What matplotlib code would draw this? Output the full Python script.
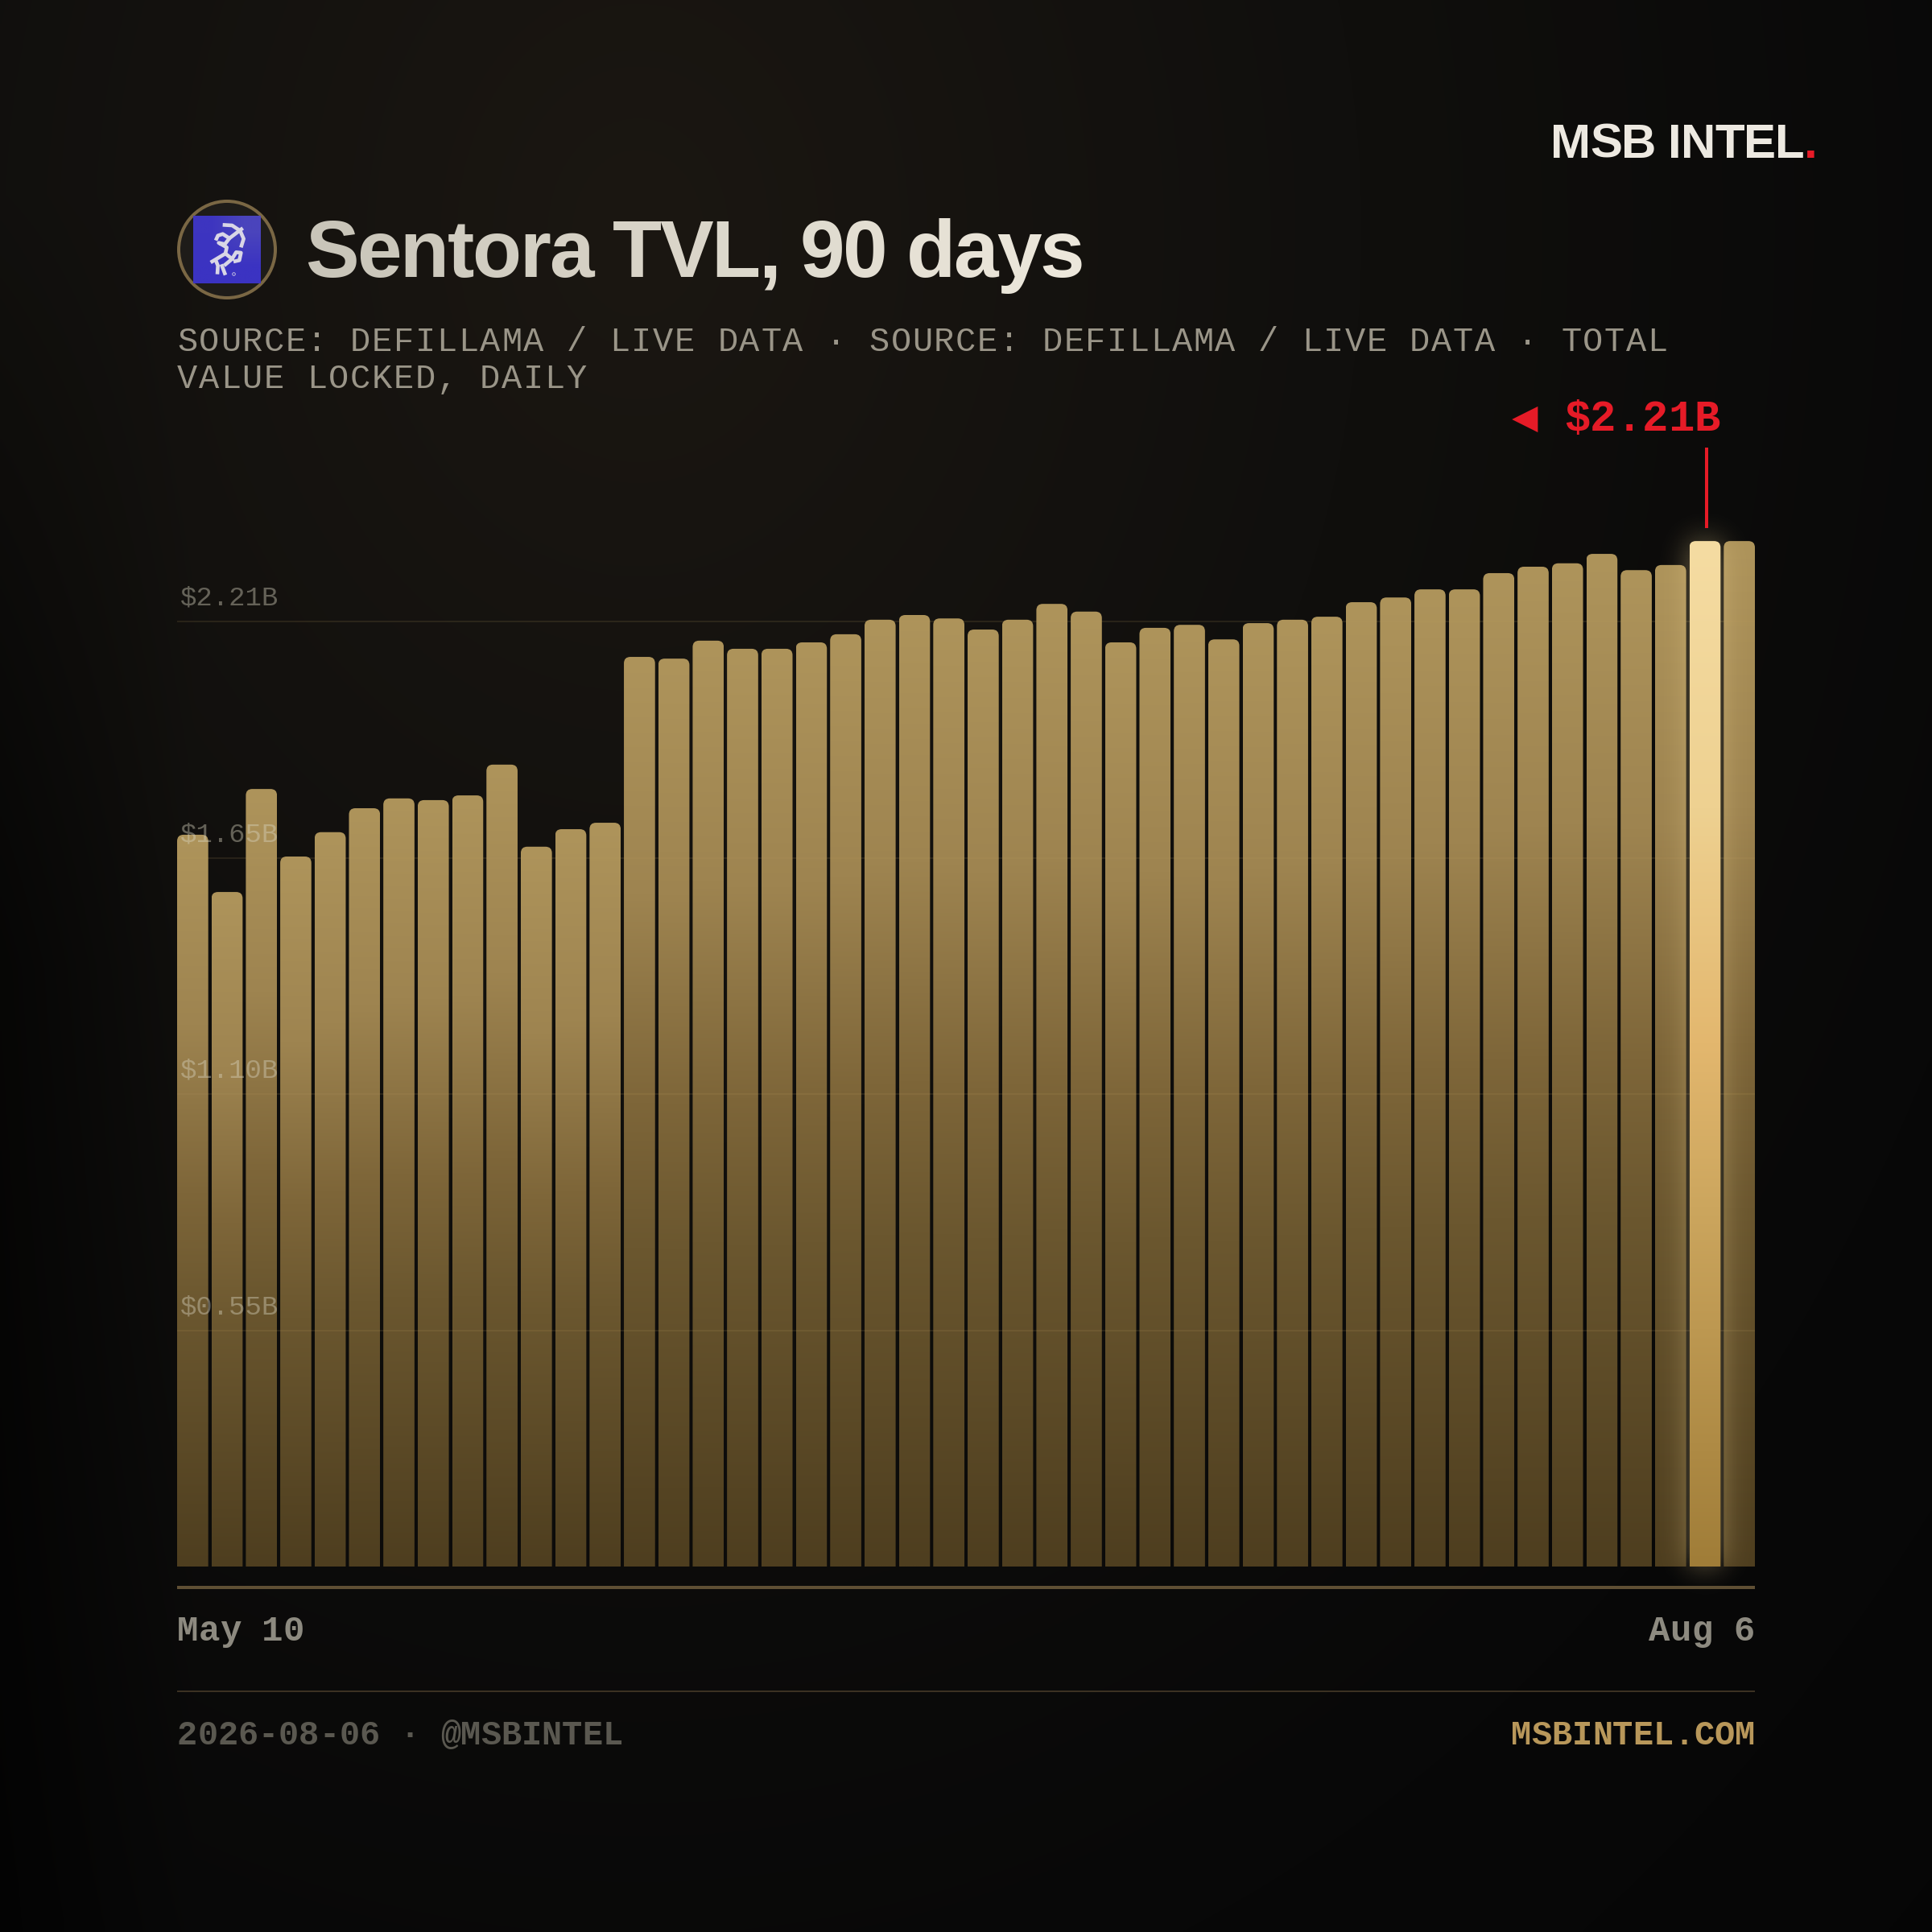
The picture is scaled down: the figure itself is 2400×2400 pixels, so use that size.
import math
import numpy as np
import matplotlib
matplotlib.use("Agg")
import matplotlib.pyplot as plt
import matplotlib.text as mtext
from matplotlib.path import Path
from matplotlib.patches import PathPatch, Circle, Rectangle
from matplotlib.colors import to_rgb
from matplotlib.transforms import Bbox

# ---------- data ----------
tvl_billions = [1.712, 1.578, 1.819, 1.661, 1.718, 1.774, 1.797, 1.793, 1.804, 1.876,
                1.684, 1.725, 1.740, 2.128, 2.124, 2.166, 2.147, 2.147, 2.162, 2.181,
                2.215, 2.226, 2.218, 2.192, 2.215, 2.252, 2.234, 2.162, 2.196, 2.203,
                2.169, 2.207, 2.215, 2.222, 2.256, 2.267, 2.286, 2.286, 2.324, 2.339,
                2.347, 2.369, 2.331, 2.343, 2.399, 2.399]
highlight_index = 44
grid_values = [2.21, 1.6575, 1.105, 0.5525]
grid_labels = ["$2.21B", "$1.65B", "$1.10B", "$0.55B"]
date_start = "May 10"
date_end = "Aug 6"
title = "Sentora TVL, 90 days"
subtitle_lines = ["SOURCE: DEFILLAMA / LIVE DATA · SOURCE: DEFILLAMA / LIVE DATA · TOTAL",
                  "VALUE LOCKED, DAILY"]
peak_label = "◀ $2.21B"
brand = "MSB INTEL."
footer_left = "2026-08-06 · @MSBINTEL"
footer_right = "MSBINTEL.COM"

# ---------- helpers ----------
W = 2400
DPI = 200
px = 72 / DPI          # font px -> pt
lw_px = 72 / DPI       # line px -> pt
MONO = ["Liberation Mono", "DejaVu Sans Mono"]
SANS = ["Liberation Sans", "DejaVu Sans"]
RED = "#e61b27"


class TrackedText(mtext.Text):
    """One text artist holding the whole string, drawn with CSS-like letter spacing."""
    def __init__(self, x, y, s, tracking=0.0, anchor="left", ramp=None, last_color=None, **kw):
        super().__init__(x, y, s, ha=anchor, va="baseline", **kw)
        self._tracking = tracking
        self._anchor = anchor
        self._ramp = ramp
        self._last_color = last_color

    def _adv(self, renderer, s):
        prop = self.get_fontproperties()
        bar = renderer.get_text_width_height_descent("|", prop, False)[0]
        return renderer.get_text_width_height_descent(s + "|", prop, False)[0] - bar

    def get_window_extent(self, renderer=None, dpi=None):
        box = super().get_window_extent(renderer, dpi)
        extra = self._tracking * (len(self.get_text()) - 1)
        if self._anchor == "right":
            return Bbox([[box.x0 - extra, box.y0], [box.x1, box.y1]])
        return Bbox([[box.x0, box.y0], [box.x1 + extra, box.y1]])

    def draw(self, renderer):
        s = self.get_text()
        x0, y0 = self.get_position()
        base_color = self.get_color()
        tx, ty = self.get_transform().transform((x0, y0))
        inv = self.get_transform().inverted()
        total = self._adv(renderer, s) + self._tracking * (len(s) - 1)
        start = tx - total if self._anchor == "right" else tx
        self.set_ha("left")
        for i, c in enumerate(s):
            if c == " ":
                continue
            off = self._adv(renderer, s[:i]) + self._tracking * i
            if self._ramp is not None:
                f = off / total
                a, b = np.array(to_rgb(self._ramp[0])), np.array(to_rgb(self._ramp[1]))
                self.set_color(tuple(a * (1 - f) + b * f))
            if self._last_color is not None and i == len(s) - 1:
                self.set_color(self._last_color)
            self.set_x(inv.transform((start + off, ty))[0])
            self.set_text(c)
            super().draw(renderer)
        self.set_ha(self._anchor)
        self.set_text(s)
        self.set_color(base_color)
        self.set_position((x0, y0))
        self.stale = False


fig = plt.figure(figsize=(W / DPI, W / DPI), dpi=DPI, facecolor="#060606")

# ---------- background (pixel-space overlay) ----------
bg = fig.add_axes([0, 0, 1, 1], zorder=0)
bg.set_xlim(0, W)
bg.set_ylim(W, 0)
bg.axis("off")
yy, xx = np.mgrid[0:1:600j, 0:1:600j]
t = np.sqrt(((xx - 0.33) / 0.75) ** 2 + ((yy - 0.12) / 0.95) ** 2)
stops_t = [0.0, 0.5, 1.0, 1.4]
stops_c = np.array([to_rgb("#1b1712"), to_rgb("#100f0d"), to_rgb("#080808"), to_rgb("#050505")])
img = np.dstack([np.interp(t, stops_t, stops_c[:, k]) for k in range(3)])
vign = 1 - (1 - np.interp(xx, [0, 0.1], [0, 1])) * np.clip((yy - 0.1) / 0.4, 0, 1) * 0.55
img = img * vign[..., None]
bg.imshow(img, extent=(0, W, W, 0), aspect="auto", interpolation="bilinear", zorder=0)

# ---------- chart axes ----------
bar_left, bar_right = 220, 2180
base_y, top_y = 1946, 500
px_per_b = 531.0
pitch = (bar_right - bar_left + 4) / len(tvl_billions)
bar_w = (pitch - 4) / pitch
ax = fig.add_axes([bar_left / W, 1 - base_y / W, (bar_right - bar_left) / W, (base_y - top_y) / W], zorder=1)
ax.patch.set_alpha(0)
xlim = (-bar_w / 2, len(tvl_billions) - 1 + bar_w / 2)
ylim = (0, (base_y - top_y) / px_per_b)
ax.set_xlim(xlim)
ax.set_ylim(ylim)
ax.axis("off")

xs = np.arange(len(tvl_billions))
bars = ax.bar(xs, tvl_billions, width=bar_w, color="none", linewidth=0, zorder=2)


def gradient(positions, colors):
    r = np.linspace(0, 1, 256)
    c = np.array([to_rgb(k) for k in colors])
    return np.dstack([np.interp(r, positions, c[:, k])[:, None] for k in range(3)])


normal_grad = gradient([0, 0.26, 0.49, 0.65, 1], ["#ae945b", "#9e8450", "#7e6639", "#6b572f", "#4e3e1f"])
hi_grad = gradient([0, 0.26, 0.49, 0.65, 1], ["#f5dca2", "#eed191", "#e3b76e", "#cca65e", "#a07d38"])
radius_px = 8


def gradient_bar(axes, rect, grad, z):
    x0, x1, h = rect.get_x(), rect.get_x() + rect.get_width(), rect.get_height()
    rx, ry = radius_px / pitch, radius_px / px_per_b
    verts = [(x0, 0), (x0, h - ry), (x0, h), (x0 + rx, h), (x1 - rx, h), (x1, h), (x1, h - ry), (x1, 0), (x0, 0)]
    codes = [Path.MOVETO, Path.LINETO, Path.CURVE3, Path.CURVE3, Path.LINETO,
             Path.CURVE3, Path.CURVE3, Path.LINETO, Path.CLOSEPOLY]
    clip = PathPatch(Path(verts, codes), transform=axes.transData, facecolor="none", edgecolor="none")
    axes.add_patch(clip)
    im = axes.imshow(grad, extent=(x0, x1, 0, h), origin="upper", aspect="auto",
                     interpolation="bilinear", zorder=z)
    im.set_clip_path(clip)
    axes.set_xlim(xlim)
    axes.set_ylim(ylim)


for i, rect in enumerate(bars):
    if i != highlight_index:
        gradient_bar(ax, rect, normal_grad, 2)

# grid over the ordinary bars
for v in grid_values:
    ax.axhline(v, color="#b89a5e", alpha=0.14, lw=2 * lw_px, zorder=3)

# glow around highlighted bar, computed from its data extents
hr = bars[highlight_index]
(gx0, gy1), (gx1, gy0) = [(p[0], W - p[1]) for p in ax.transData.transform(
    [(hr.get_x(), 0), (hr.get_x() + hr.get_width(), hr.get_height())])]
sigma = 18.0
xg = np.arange(gx0 - 90, gx1 + 90, 2.0)
yg = np.arange(gy0 - 90, gy1 + 90, 2.0)
erf = np.vectorize(math.erf)
s2 = sigma * 2 ** 0.5
fx = 0.5 * (erf((xg - gx0) / s2) - erf((xg - gx1) / s2))
fy = 0.5 * (erf((yg - gy0) / s2) - erf((yg - gy1) / s2))
rgba = np.zeros((len(yg), len(xg), 4))
rgba[..., :3] = to_rgb("#f2d695")
rgba[..., 3] = 0.46 * np.outer(fy, fx)
gl = fig.add_axes([0, 0, 1, 1], zorder=1.5)
gl.axis("off")
gl.patch.set_alpha(0)
gl.imshow(rgba, extent=(xg[0], xg[-1], yg[-1], yg[0]), aspect="auto", interpolation="bilinear")
gl.set_xlim(0, W)
gl.set_ylim(W, 0)

# highlighted bar and grid labels above the glow
top = fig.add_axes(ax.get_position(), zorder=2)
top.patch.set_alpha(0)
top.axis("off")
gradient_bar(top, hr, hi_grad, 2)
for v, lab in zip(grid_values, grid_labels):
    top.annotate(lab, (0, v), xycoords=("axes fraction", "data"), xytext=(1.4, 20.5 * px),
                 textcoords="offset points", ha="left", va="baseline", fontsize=34 * px,
                 family=MONO, color="#d8d4c0", alpha=0.42, zorder=4)

# ---------- overlay for text and furniture ----------
ov = fig.add_axes([0, 0, 1, 1], zorder=3)
ov.set_xlim(0, W)
ov.set_ylim(W, 0)
ov.axis("off")
ov.patch.set_alpha(0)


def T(x, y, s, size, color, family=MONO, weight="normal", tracking=0.0, anchor="left", ramp=None, last_color=None):
    txt = TrackedText(x, y, s, tracking=tracking, anchor=anchor, ramp=ramp, last_color=last_color,
                      fontsize=size * px, color=color, family=family, weight=weight, transform=ov.transData)
    ov.add_artist(txt)
    return txt


# brand
T(1926, 196, brand, 60, "#ede9e1", SANS, "bold", tracking=-0.9, last_color=RED)

# logo
ov.add_patch(Circle((282, 310), 60, facecolor="#1e1c19", edgecolor="#7a6744", lw=4 * lw_px))
grad_logo = np.array([[to_rgb("#3d35c0"), to_rgb("#4a44bc")], [to_rgb("#3b33c2"), to_rgb("#3b33c2")]])
ov.imshow(grad_logo, extent=(240, 324, 352, 268), aspect="auto", interpolation="bilinear", zorder=2)
ov.set_xlim(0, W)
ov.set_ylim(W, 0)


def zp(p):
    return [(180 + a / 3, 220 + b / 3) for a, b in p]


logo_paths = [
    [(290, 178), (325, 180), (355, 200), (368, 230), (358, 262)],
    [(264, 236), (272, 218), (290, 212), (315, 228), (365, 190)],
    [(315, 228), (298, 250), (275, 245), (305, 262), (300, 285), (245, 318)],
    [(300, 285), (325, 305), (340, 280), (358, 282), (352, 310), (330, 315)],
    [(262, 305), (272, 330), (270, 362)],
    [(285, 325), (300, 365)],
    [(325, 305), (295, 330)],
]
for p in logo_paths:
    q = np.array(zp(p))
    ov.plot(q[:, 0], q[:, 1], color="#d9d6e6", lw=4.6 * lw_px, solid_capstyle="butt",
            solid_joinstyle="round", zorder=3)
ov.add_patch(Circle((290.5, 340.5), 1.8, facecolor="none", edgecolor="#d9d6e6", lw=0.8 * lw_px, zorder=3))

# title / subtitle
T(379, 344, title, 100, "#e0dbcf", SANS, "bold", tracking=-2.3, ramp=("#c9c5b9", "#eee9dd"))
for i, line in enumerate(subtitle_lines):
    T(220, 436.5 + 46 * i, line, 42, "#9a9588", tracking=1.61)

# peak annotation
T(2137, 535, peak_label, 54, RED, weight="bold", anchor="right")
ov.add_patch(Rectangle((2118, 556), 4, 100, facecolor=RED, edgecolor="none"))

# axis rule + date labels
ov.add_patch(Rectangle((bar_left, 1970), bar_right - bar_left, 4, facecolor="#5f4f34", edgecolor="none"))
T(bar_left, 2038, date_start, 44, "#8d8a80", weight="bold")
T(bar_right, 2038, date_end, 44, "#8d8a80", weight="bold", anchor="right")

# footer
ov.add_patch(Rectangle((bar_left, 2100), bar_right - bar_left, 2, facecolor="#3b3122", edgecolor="none"))
T(bar_left, 2167, footer_left, 42, "#5a5850", weight="bold", tracking=-0.1)
T(bar_right, 2167, footer_right, 42, "#b8975a", weight="bold", anchor="right")

fig.savefig("out.png", dpi=DPI, facecolor=fig.get_facecolor())
